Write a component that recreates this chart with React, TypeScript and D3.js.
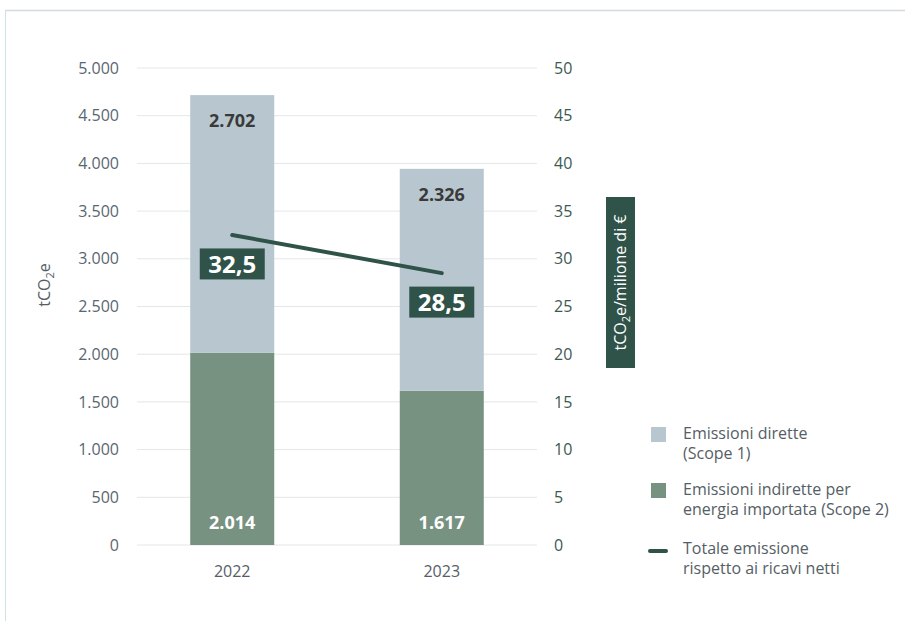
import React from "react";
import * as d3 from "d3";

const years = ["2022", "2023"];
const scope2 = [2014, 1617];
const scope1 = [2702, 2326];
const intensity = [32.5, 28.5];
const leftTicks = [0, 500, 1000, 1500, 2000, 2500, 3000, 3500, 4000, 4500, 5000];
const rightTicks = [0, 5, 10, 15, 20, 25, 30, 35, 40, 45, 50];
const intensityLabels = ["32,5", "28,5"];

const W = 905, H = 621;
const FONT = "'Open Sans', 'Noto Sans', sans-serif";
const fmt = (v: number) => d3.format(",")(v).replace(/,/g, ".");

export default function App() {
  const x = d3.scaleBand<string>().domain(years).range([137, 537]).paddingInner(0.599).paddingOuter(0.254);
  const y = d3.scaleLinear().domain([0, 5000]).range([545, 68]);
  const y2 = d3.scaleLinear().domain([0, 50]).range([545, 68]);
  const line = d3.line<number>().x((_, i) => x(years[i])! + x.bandwidth() / 2).y((d) => y2(d));
  const bw = x.bandwidth();
  const c1 = "#b8c7cf", c2 = "#789282", dark = "#2f5249";

  return (
    <svg width={W} height={H} style={{ position: "absolute", left: 0, top: 0, background: "#fff" }} fontFamily={FONT}>
      <line x1={5} x2={W} y1={10.5} y2={10.5} stroke="#d3dbde" strokeWidth={1.5} />
      <line x1={5.5} x2={5.5} y1={10} y2={H} stroke="#cfe0e6" strokeWidth={1} />
      {leftTicks.map((t) => (
        <g key={t}>
          <line x1={137} x2={537} y1={y(t)} y2={y(t)} stroke="#e4e6e7" strokeWidth={1} />
          <text x={119} y={y(t)} dy="0.35em" textAnchor="end" fontSize={16} fill="#5a6670">{fmt(t)}</text>
        </g>
      ))}
      {rightTicks.map((t) => (
        <text key={t} x={554} y={y2(t)} dy="0.35em" fontSize={16} fill="#3d5a52">{t}</text>
      ))}
      <text transform="translate(50,285) rotate(-90)" textAnchor="middle" fontSize={16} fill="#555e66">
        tCO<tspan fontSize={11} dy={4}>2</tspan><tspan dy={-4}>e</tspan>
      </text>
      <rect x={606} y={197} width={29} height={171} fill={dark} />
      <text transform="translate(626,282.5) rotate(-90)" textAnchor="middle" fontSize={16} fill="#fff">
        tCO<tspan fontSize={11} dy={4}>2</tspan><tspan dy={-4}>e/milione di €</tspan>
      </text>
      {years.map((yr, i) => {
        const bx = x(yr)!;
        const cx = bx + bw / 2;
        const top2 = y(scope2[i]);
        const top1 = y(scope2[i] + scope1[i]);
        return (
          <g key={yr}>
            <rect x={bx} y={top2} width={bw} height={y(0) - top2} fill={c2} />
            <rect x={bx} y={top1} width={bw} height={top2 - top1} fill={c1} />
            <text x={cx} y={top1 + 26} dy="0.35em" textAnchor="middle" fontSize={18} fontWeight={700} fill="#3a3a3a">{fmt(scope1[i])}</text>
            <text x={cx} y={523} dy="0.35em" textAnchor="middle" fontSize={18} fontWeight={700} fill="#fff">{fmt(scope2[i])}</text>
            <text x={cx} y={571} dy="0.35em" textAnchor="middle" fontSize={16} fill="#555e66">{yr}</text>
          </g>
        );
      })}
      <path d={line(intensity)!} fill="none" stroke={dark} strokeWidth={4} strokeLinecap="round" />
      {years.map((yr, i) => {
        const cx = x(yr)! + bw / 2;
        const cy = y2(intensity[i]) + 29;
        return (
          <g key={"l" + yr}>
            <rect x={cx - 32.5} y={cy - 15.5} width={65} height={31} fill={dark} />
            <text x={cx} y={cy} dy="0.36em" textAnchor="middle" fontSize={24} fontWeight={700} fill="#fff">{intensityLabels[i]}</text>
          </g>
        );
      })}
      <g fontSize={16} fill="#555e66">
        <rect x={651} y={427} width={15} height={15} fill={c1} />
        <text x={683} y={439}>Emissioni dirette</text>
        <text x={683} y={459}>(Scope 1)</text>
        <rect x={651} y={483} width={15} height={15} fill={c2} />
        <text x={683} y={495}>Emissioni indirette per</text>
        <text x={683} y={515}>energia importata (Scope 2)</text>
        <line x1={650} x2={666} y1={551} y2={551} stroke={dark} strokeWidth={4} strokeLinecap="round" />
        <text x={683} y={554}>Totale emissione</text>
        <text x={683} y={574}>rispetto ai ricavi netti</text>
      </g>
    </svg>
  );
}
